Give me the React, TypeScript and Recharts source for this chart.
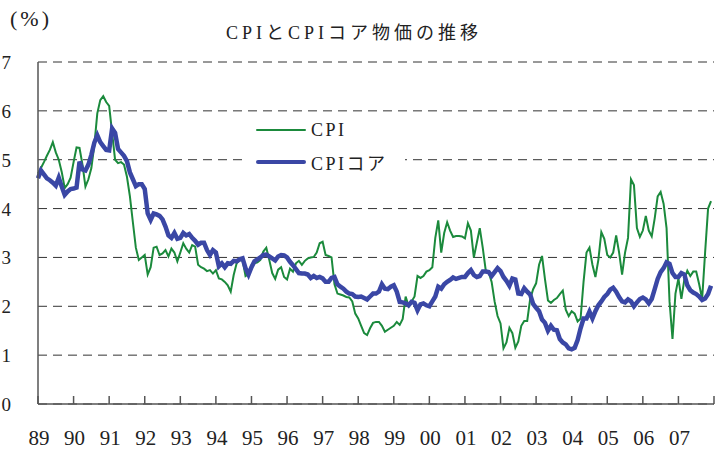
import { LineChart, Line, XAxis, YAxis, CartesianGrid, Legend } from 'recharts'

const startYear = 1989
const yearTicks = [1989, 1990, 1991, 1992, 1993, 1994, 1995, 1996, 1997, 1998, 1999, 2000, 2001, 2002, 2003, 2004, 2005, 2006, 2007, 2008]
const yTicks = [0, 1, 2, 3, 4, 5, 6, 7]

// monthly, Jan 1989 - Dec 2007
const cpi = [
  4.72, 4.83, 4.95, 5.08, 5.2, 5.36, 5.15, 5.0, 4.75, 4.42, 4.5, 4.63,
  4.95, 5.25, 5.24, 4.9, 4.45, 4.6, 4.83, 5.3, 5.95, 6.22, 6.3, 6.18,
  6.1, 5.55, 5.0, 4.93, 4.95, 4.9, 4.65, 4.25, 3.72, 3.2, 2.95, 3.0,
  3.05, 2.65, 2.8, 3.2, 3.22, 3.05, 3.08, 3.15, 3.02, 3.18, 3.1, 2.92,
  3.1, 3.29, 3.18, 3.1, 3.25, 3.22, 2.85, 2.8, 2.77, 2.72, 2.74, 2.67,
  2.74, 2.57, 2.55, 2.5, 2.43, 2.3, 2.64, 2.88, 2.94, 2.94, 2.62, 2.66,
  2.84, 2.88, 2.9, 2.95, 3.12, 3.2, 2.95, 2.68, 2.56, 2.75, 2.8, 2.6,
  2.55, 2.77, 2.71, 2.88, 2.93, 2.85, 2.93, 2.98, 3.0, 3.01, 3.1, 3.29,
  3.32, 3.05, 3.03, 3.0, 2.45, 2.26, 2.24, 2.22, 2.19, 2.18, 2.1, 1.85,
  1.75, 1.6, 1.45, 1.41, 1.55, 1.66, 1.68, 1.68, 1.6, 1.48, 1.52, 1.56,
  1.6, 1.68, 1.62, 1.74, 2.2, 2.0, 2.1, 2.2, 2.62, 2.58, 2.62, 2.71,
  2.74, 2.8, 3.4, 3.76, 3.1, 3.5, 3.72, 3.55, 3.42, 3.44, 3.44, 3.43,
  3.39, 3.7, 3.55, 3.0, 3.3, 3.6, 3.2, 2.74, 2.7, 2.5, 2.1, 1.8,
  1.65, 1.14, 1.26, 1.56, 1.45, 1.15, 1.28, 1.6, 1.7, 1.7, 2.15, 2.35,
  2.47, 2.85, 3.03, 2.55, 2.12, 2.07, 2.13, 2.17, 2.25, 2.32, 1.93, 1.8,
  1.9, 1.85, 1.69, 1.75, 2.5, 3.1, 3.2, 2.85, 2.6, 2.95, 3.52, 3.38,
  3.05, 3.0, 3.1, 3.45, 3.1, 2.65, 3.1, 3.4, 4.6, 4.48, 3.6, 3.42,
  3.55, 3.85, 3.55, 3.43, 3.8, 4.25, 4.34, 4.1, 3.6, 2.1, 1.33, 2.26,
  2.57, 2.15, 2.55, 2.73, 2.62, 2.71, 2.71, 2.45, 2.15, 3.1, 4.0, 4.15,
]

const cpiCore = [
  4.62, 4.78, 4.7, 4.62, 4.58, 4.53, 4.47, 4.63, 4.45, 4.28, 4.35, 4.4,
  4.41, 4.43, 4.96, 4.8, 4.78, 4.9, 5.1, 5.35, 5.5, 5.36, 5.28, 5.2,
  5.19, 5.64, 5.55, 5.22, 5.15, 5.08, 4.97, 4.74, 4.6, 4.46, 4.5, 4.5,
  4.4, 3.9, 3.77, 3.9, 3.88, 3.85, 3.78, 3.63, 3.45, 3.4, 3.5, 3.38,
  3.4, 3.5, 3.45, 3.48, 3.4, 3.34, 3.26, 3.3, 3.3, 3.15, 3.05, 3.15,
  3.1, 2.82, 2.88, 2.8, 2.88, 2.87, 2.93, 2.92, 2.96, 2.98, 2.78, 2.65,
  2.8, 2.92, 2.96, 3.0, 3.05, 3.06, 3.02, 2.98, 2.94, 3.02, 3.05, 3.04,
  3.0, 2.91, 2.84, 2.76, 2.68, 2.67, 2.67, 2.65, 2.58, 2.62, 2.58, 2.6,
  2.57, 2.5, 2.5, 2.58, 2.6, 2.45, 2.4, 2.36, 2.3, 2.26, 2.25, 2.2,
  2.19, 2.2, 2.17, 2.14, 2.2, 2.26, 2.26, 2.3, 2.45, 2.36, 2.35, 2.4,
  2.43, 2.3, 2.09, 2.08, 2.06, 2.02, 2.09, 2.07, 1.92, 2.04, 2.06, 2.02,
  2.0, 2.1, 2.2, 2.4, 2.36, 2.45, 2.5, 2.54, 2.59, 2.56, 2.58, 2.6,
  2.6, 2.68, 2.74, 2.64, 2.6, 2.62, 2.71, 2.71, 2.7, 2.62, 2.7, 2.78,
  2.72, 2.6, 2.52, 2.42, 2.57, 2.55, 2.26, 2.25, 2.37, 2.3, 2.24, 2.05,
  1.97, 1.9, 1.73, 1.66, 1.5, 1.6, 1.52, 1.51, 1.33, 1.26, 1.22, 1.14,
  1.12, 1.15, 1.31, 1.55, 1.75, 1.75, 1.89, 1.75, 1.9, 2.02, 2.1, 2.19,
  2.25, 2.34, 2.38, 2.3, 2.19, 2.1, 2.08, 2.14, 2.1, 2.0, 2.08, 2.15,
  2.18, 2.14, 2.06, 2.15, 2.35, 2.56, 2.7, 2.78, 2.9, 2.87, 2.68, 2.6,
  2.6, 2.68, 2.65, 2.43, 2.33, 2.28, 2.25, 2.2, 2.13, 2.16, 2.25, 2.42,
]

const data = cpi.map((v, i) => ({ t: startYear + i / 12, cpi: v, core: cpiCore[i] }))

const GREEN = '#1b8a3c'
const BLUE = '#3a47a5'
const AXIS = '#555'
const FONT = "'Liberation Serif', 'DejaVu Serif', 'Noto Sans CJK JP', serif"

function XTick(props: any) {
  const { x, y, payload } = props
  return (
    <g>
      <line x1={x} x2={x} y1={y} y2={y - 8} stroke={AXIS} strokeWidth={1.5} />
      {payload.value < 2008 && (
        <text x={x + 1} y={y + 41} textAnchor="middle" fontSize={21} fill="#222" fontFamily={FONT}>
          {String(payload.value).slice(2)}
        </text>
      )}
    </g>
  )
}

function YTick(props: any) {
  const { x, y, payload } = props
  return (
    <text x={x - 27} y={y + 7} textAnchor="end" fontSize={19} fill="#222" fontFamily={FONT}>
      {payload.value}
    </text>
  )
}

function LegendBox(props: any) {
  const widths: Record<string, number> = { cpi: 2, core: 4.5 }
  return (
    <div style={{ background: '#fff', width: 160, height: 64, paddingTop: 1 }}>
      {props.payload.map((p: any) => (
        <div key={p.dataKey} style={{ height: 32, display: 'flex', alignItems: 'center' }}>
          <div style={{ width: 50, height: widths[p.dataKey], background: p.color, marginLeft: 11, borderRadius: 2 }} />
          <span style={{ marginLeft: 5, fontSize: 18, letterSpacing: 2.5, color: '#222', fontFamily: FONT }}>{p.value}</span>
        </div>
      ))}
    </div>
  )
}

export default function App() {
  return (
    <div style={{ position: 'relative', width: 726, height: 450, background: '#fff' }}>
      <style>{'body{margin:0}'}</style>
      <div style={{ position: 'absolute', left: 10, top: 6, fontSize: 22, letterSpacing: 3, color: '#222', fontFamily: FONT }}>(%)</div>
      <div style={{ position: 'absolute', left: 0, width: 708, top: 18, textAlign: 'center', fontSize: 18, letterSpacing: 4, color: '#222', fontFamily: FONT }}>
        CPIとCPIコア物価の推移
      </div>
      <LineChart width={726} height={450} data={data} margin={{ top: 62, right: 12, left: 0, bottom: 0 }}>
        <CartesianGrid vertical={false} stroke="#333" strokeDasharray="9 6" />
        <XAxis
          dataKey="t"
          type="number"
          domain={[1989, 2008]}
          ticks={yearTicks}
          interval={0}
          height={46}
          tickSize={0}
          tickMargin={0}
          tickLine={false}
          axisLine={{ stroke: AXIS, strokeWidth: 1.5 }}
          tick={<XTick />}
        />
        <YAxis
          domain={[0, 7]}
          ticks={yTicks}
          interval={0}
          width={38}
          tickSize={0}
          tickMargin={0}
          tickLine={false}
          axisLine={{ stroke: AXIS, strokeWidth: 1.5 }}
          tick={<YTick />}
        />
        <Legend
          layout="horizontal"
          verticalAlign="middle"
          align="center"
          content={<LegendBox />}
          wrapperStyle={{ left: 245, top: 113, width: 160, height: 64 }}
        />
        <Line type="linear" dataKey="cpi" name="CPI" stroke={GREEN} strokeWidth={2} dot={false} isAnimationActive={false} />
        <Line type="linear" dataKey="core" name="CPIコア" stroke={BLUE} strokeWidth={4.5} dot={false} isAnimationActive={false} />
      </LineChart>
    </div>
  )
}
